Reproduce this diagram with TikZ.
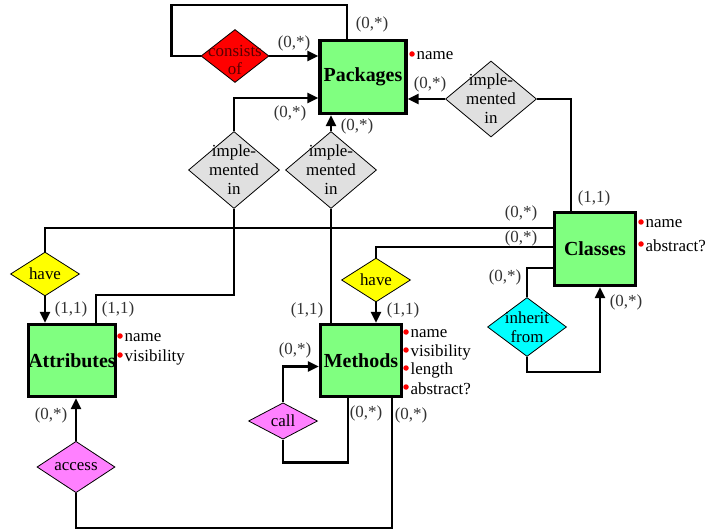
\documentclass[tikz,border=0pt]{standalone}
\usepackage{fontspec}
\setmainfont{Liberation Serif}
\usetikzlibrary{arrows.meta,calc,shapes.geometric,backgrounds}
\definecolor{entgreen}{RGB}{128,255,128}
\definecolor{relgray}{RGB}{224,224,224}
\definecolor{relyellow}{RGB}{255,255,0}
\definecolor{relcyan}{RGB}{0,255,255}
\definecolor{relpink}{RGB}{255,128,255}
\definecolor{relred}{RGB}{255,0,0}

\begin{document}
\begin{tikzpicture}[
  x=1bp, y=-1bp,
  font=\fontsize{17}{19}\selectfont,
  entity/.style={draw, line width=3.2bp, fill=entgreen, inner sep=0pt, font=\fontsize{20}{22}\selectfont\bfseries},
  rel/.style={diamond, draw, line width=0.8bp, inner sep=0pt},
  reltext/.style={align=center, inner sep=0pt},
  attr/.style={circle, fill=red, inner sep=0pt, minimum size=5.5bp, label={[inner sep=1.5bp, yshift=-2bp]right:#1}},
  card/.style={text=black!80, inner sep=0pt},
  link/.style={line width=2.6bp},
  arr/.style={link, -{Triangle[length=11bp, width=10bp]}}
]
\useasboundingbox (0,0) rectangle (709,530);

% entities
\node[entity, minimum width=86bp, minimum height=73bp] (pkg) at (363,77) {Packages};
\node[entity, minimum width=81bp, minimum height=73bp] (cls) at (595,249) {Classes};
\node[entity, minimum width=87bp, minimum height=72bp] (att) at (72,360.5) {Attributes};
\node[entity, minimum width=81bp, minimum height=72bp] (meth) at (361,360.5) {Methods};

% attributes
\node[attr=name] (pkgName) at (412,54) {};
\node[attr=name] (clsName) at (641,222) {};
\node[attr=abstract?] (clsAbs) at (641,244) {};
\node[attr=name] (attName) at (120,336) {};
\node[attr=visibility] (attVis) at (120,355) {};
\node[attr=name] (methName) at (406,332) {};
\node[attr=visibility] (methVis) at (406,350) {};
\node[attr=length] (methLen) at (406,368) {};
\node[attr=abstract?] (methAbs) at (406,387) {};

% relationships
\node[rel, fill=relred, minimum width=68bp, minimum height=53bp,
  label={[reltext, text=red!35!black, yshift=-4bp]center:consists\\of}] (cons) at (235,56) {};
\node[rel, fill=relgray, minimum width=91bp, minimum height=77bp,
  label={[reltext]center:imple-\\mented\\in}] (implA) at (234,170) {};
\node[rel, fill=relgray, minimum width=91bp, minimum height=77bp,
  label={[reltext]center:imple-\\mented\\in}] (implB) at (331,170) {};
\node[rel, fill=relgray, minimum width=91bp, minimum height=76bp,
  label={[reltext]center:imple-\\mented\\in}] (implC) at (491,99) {};
\node[rel, fill=relyellow, minimum width=69bp, minimum height=35bp] (haveA) at (45,274) {have};
\node[rel, fill=relyellow, minimum width=69bp, minimum height=35bp] (haveB) at (376,280) {have};
\node[rel, fill=relcyan, minimum width=79bp, minimum height=59bp,
  label={[reltext]center:inherit\\from}] (inh) at (527,327) {};
\node[rel, fill=relpink, minimum width=69bp, minimum height=35bp] (call) at (283,421) {call};
\node[rel, fill=relpink, minimum width=78bp, minimum height=39bp] (acc) at (76,467) {access};

% connection points
\coordinate (loopturn) at (347,5);
\coordinate (pkgA) at ($(pkg.west)+(0,21)$);
\coordinate (clsA) at ($(cls.north)+(-24,0)$);
\coordinate (clsB) at ($(cls.west)+(0,-21)$);
\coordinate (clsC) at ($(cls.west)+(0,-2)$);
\coordinate (clsD) at ($(cls.west)+(0,19)$);
\coordinate (clsE) at ($(cls.south)+(5,0)$);
\coordinate (attA) at ($(att.north)+(24,0)$);
\coordinate (methA) at ($(meth.west)+(0,6)$);
\coordinate (methB) at ($(meth.south)+(-13,0)$);
\coordinate (methC) at ($(meth.south)+(31,0)$);

% connectors
\begin{scope}[on background layer]
\draw[arr] (cons.east) -- (pkg.west |- cons.east);
\draw[link] (cons.west) -- ++(-29,0) |- (loopturn) -- (loopturn |- pkg.north);
\draw[arr] (implA.north) |- (pkgA);
\draw[arr] (implB.north) -- (pkg.south -| implB.north);
\draw[arr] (implC.west) -- (pkg.east |- implC.west);
\draw[link] (implC.east) -| (clsA);
\draw[link] (implA.south) -- ++(0,86) -| (attA);
\draw[link] (implB.south) -- (meth.north -| implB.south);
\draw[link] (clsB) -| (haveA.north);
\draw[link] (clsC) -| (haveB.north);
\draw[arr] (haveA.south) -- (att.north -| haveA.south);
\draw[arr] (haveB.south) -- (meth.north -| haveB.south);
\draw[link] (clsD) -| (inh.north);
\draw[arr] (inh.south) -- ++(0,15) -| (clsE);
\draw[arr] (call.north) |- (methA);
\draw[link] (call.south) -- ++(0,23) -| (methB);
\draw[link] (methC) -- ++(0,130) -| (acc.south);
\draw[arr] (acc.north) -- (att.south -| acc.north);
\end{scope}

% cardinalities
\node[card] (cardLoop) at (372,24) {(0,*)};
\node[card] (cardCons) at (294,43) {(0,*)};
\node[card] (cardPkgA) at (290,113) {(0,*)};
\node[card] (cardPkgB) at (357,126) {(0,*)};
\node[card] (cardPkgC) at (430,84) {(0,*)};
\node[card] (cardClsTop) at (594,198) {(1,1)};
\node[card] (cardClsA) at (521,213) {(0,*)};
\node[card] (cardClsB) at (521,238) {(0,*)};
\node[card] (cardInhA) at (505,277) {(0,*)};
\node[card] (cardInhB) at (626,302) {(0,*)};
\node[card] (cardHaveA) at (71,309) {(1,1)};
\node[card] (cardAttImpl) at (118,309) {(1,1)};
\node[card] (cardMethImpl) at (307,310) {(1,1)};
\node[card] (cardHaveB) at (403,310) {(1,1)};
\node[card] (cardCallA) at (295,350) {(0,*)};
\node[card] (cardCallB) at (366,413) {(0,*)};
\node[card] (cardAccB) at (411,415) {(0,*)};
\node[card] (cardAcc) at (51,415) {(0,*)};
\end{tikzpicture}
\end{document}
